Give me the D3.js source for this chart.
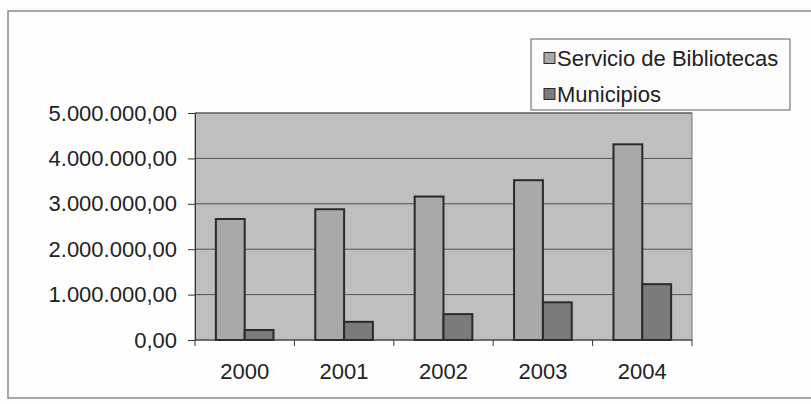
<!DOCTYPE html>
<html>
<head>
<meta charset="utf-8">
<script src="https://cdn.jsdelivr.net/npm/d3@7"></script>
<style>
  body { margin: 0; background: #fdfdfd; }
  svg text { font-family: "Liberation Sans", Arial, sans-serif; fill: #222; }
</style>
</head>
<body>
<div id="chart"></div>
<script>
// data
var years = ["2000", "2001", "2002", "2003", "2004"];
var seriesNames = ["Servicio de Bibliotecas", "Municipios"];
var bibliotecas = [2665000, 2880000, 3160000, 3520000, 4310000];
var municipios = [220000, 400000, 570000, 830000, 1230000];
var yTicks = [0, 1000000, 2000000, 3000000, 4000000, 5000000];

var seriesColors = ["#a9a9a9", "#7b7b7b"];

var W = 811, H = 404;
var margin = { top: 113, right: 119, bottom: 64, left: 195 };
var width = W - margin.left - margin.right;
var height = H - margin.top - margin.bottom;

var svg = d3.select("#chart").append("svg")
    .attr("width", W)
    .attr("height", H);

// outer chart frame
svg.append("rect")
    .attr("x", 8).attr("y", 11)
    .attr("width", W + 10).attr("height", 387)
    .attr("fill", "#fefefe")
    .attr("stroke", "#8a8a8a")
    .attr("stroke-width", 1.5);

var g = svg.append("g")
    .attr("transform", "translate(" + margin.left + "," + margin.top + ")");

var x0 = d3.scaleBand().domain(years).range([0, width]);
var bw = x0.bandwidth();
var x1 = d3.scaleBand().domain(seriesNames).range([bw * 0.21, bw * 0.79]);
var y = d3.scaleLinear().domain([0, 5000000]).range([height, 0]);

// plot area
g.append("rect")
    .attr("width", width).attr("height", height)
    .attr("fill", "#bfbfbf")
    .attr("stroke", "#777");

// gridlines
g.selectAll(".grid")
    .data(yTicks.slice(1))
    .enter().append("line")
    .attr("x1", 0).attr("x2", width)
    .attr("y1", function (d) { return y(d); })
    .attr("y2", function (d) { return y(d); })
    .attr("stroke", "#555")
    .attr("stroke-width", 1);

// format like 5.000.000,00
var fmt = d3.formatLocale({ decimal: ",", thousands: ".", grouping: [3], currency: ["", ""] }).format(",.2f");

var yAxis = d3.axisLeft(y).tickValues(yTicks).tickSize(7).tickPadding(11).tickFormat(fmt);
var gy = g.append("g").call(yAxis);
gy.select(".domain").attr("stroke", "#333");
gy.selectAll(".tick line").attr("stroke", "#333");
gy.selectAll("text").style("font-size", "22px");

var data = years.map(function (yr, i) {
  return { year: yr, values: [bibliotecas[i], municipios[i]] };
});

var groups = g.selectAll(".year")
    .data(data)
    .enter().append("g")
    .attr("transform", function (d) { return "translate(" + x0(d.year) + ",0)"; });

groups.selectAll("rect")
    .data(function (d) {
      return d.values.map(function (v, j) { return { name: seriesNames[j], value: v, idx: j }; });
    })
    .enter().append("rect")
    .attr("x", function (d) { return x1(d.name); })
    .attr("width", x1.bandwidth())
    .attr("y", function (d) { return y(d.value); })
    .attr("height", function (d) { return height - y(d.value); })
    .attr("fill", function (d) { return seriesColors[d.idx]; })
    .attr("stroke", "#2a2a2a")
    .attr("stroke-width", 2);

// x axis with ticks between categories
var gx = g.append("g").attr("transform", "translate(0," + height + ")");
gx.append("line").attr("x1", 0).attr("x2", width).attr("stroke", "#333");
gx.selectAll(".sep")
    .data(years.concat(["end"]))
    .enter().append("line")
    .attr("x1", function (d, i) { return i * bw; })
    .attr("x2", function (d, i) { return i * bw; })
    .attr("y1", 0).attr("y2", 6)
    .attr("stroke", "#333");
gx.selectAll(".lbl")
    .data(years)
    .enter().append("text")
    .attr("x", function (d) { return x0(d) + bw / 2; })
    .attr("y", 39)
    .attr("text-anchor", "middle")
    .style("font-size", "22px")
    .text(function (d) { return d; });

// legend
var legend = svg.append("g").attr("transform", "translate(531,39)");
legend.append("rect")
    .attr("width", 259).attr("height", 71)
    .attr("fill", "#fcfcfc")
    .attr("stroke", "#777")
    .attr("stroke-width", 1.2);
var items = legend.selectAll(".item")
    .data(seriesNames)
    .enter().append("g")
    .attr("transform", function (d, i) { return "translate(13," + (19 + i * 36) + ")"; });
items.append("rect")
    .attr("x", 0).attr("y", -5.5)
    .attr("width", 11).attr("height", 11)
    .attr("fill", function (d, i) { return seriesColors[i]; })
    .attr("stroke", "#2a2a2a");
items.append("text")
    .attr("x", 13)
    .attr("dy", "0.35em")
    .style("font-size", "22px")
    .text(function (d) { return d; });
</script>
</body>
</html>
